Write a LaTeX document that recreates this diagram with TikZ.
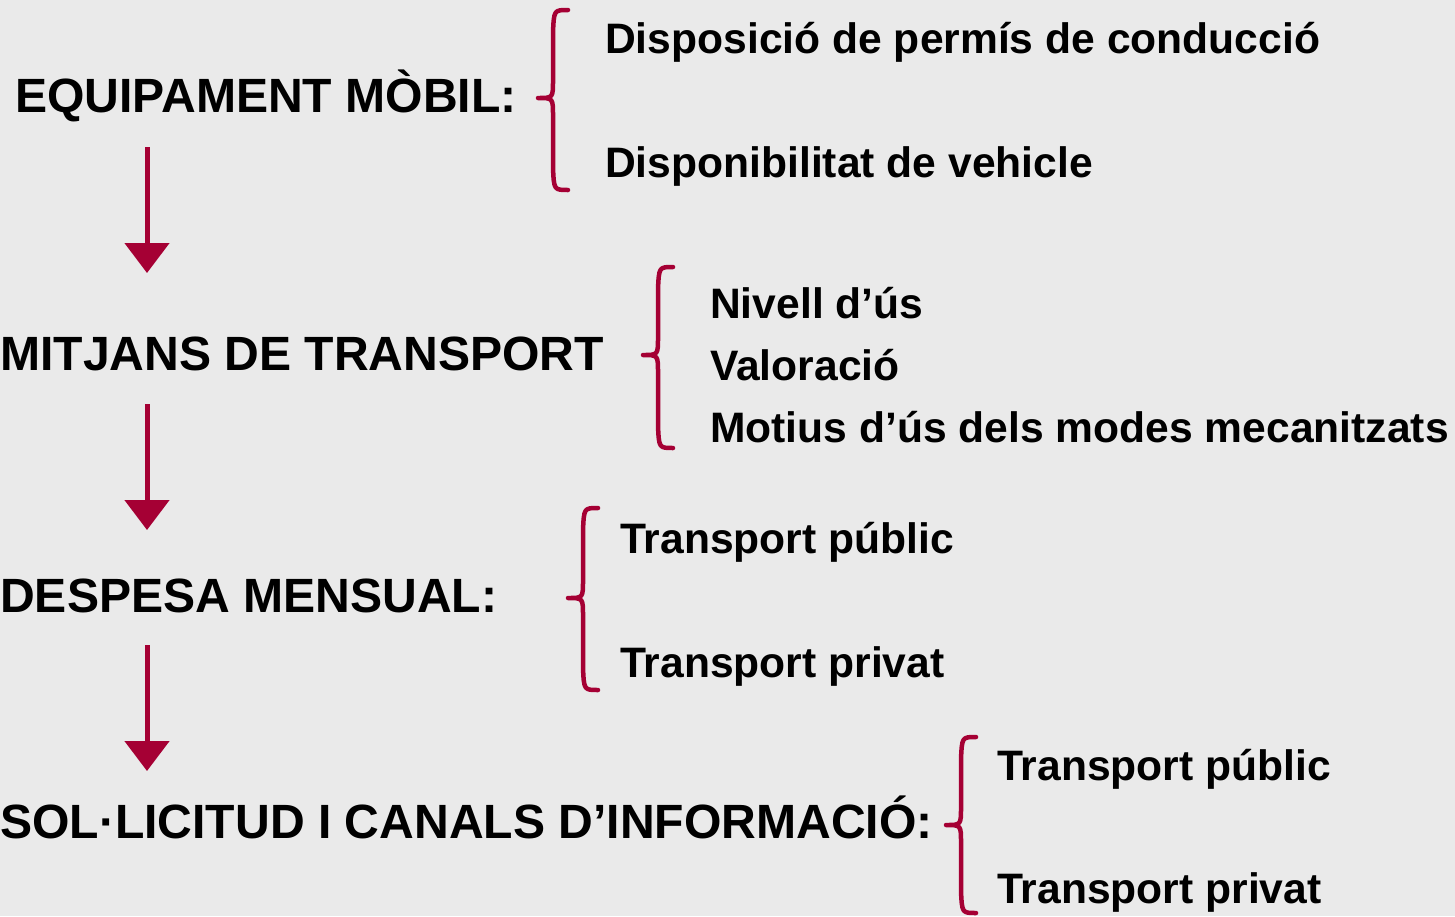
\documentclass[tikz,border=0pt]{standalone}
\usepackage{fontspec}
\setmainfont{Liberation Sans}
\usetikzlibrary{arrows.meta}
\definecolor{crim}{HTML}{A50034}
\definecolor{bg}{HTML}{EAEAEA}
\newcommand{\mybrace}[4]{%
  \draw[bracestyle] ({#1+30},#2) .. controls ({#1+16},#2) .. ({#1+15},{#2+22})
    -- ({#1+15},{#3-18}) .. controls ({#1+15},#3) .. (#1,#3)
    .. controls ({#1+15},#3) .. ({#1+15},{#3+18})
    -- ({#1+15},{#4-22}) .. controls ({#1+16},#4) .. ({#1+30},#4);}
\begin{document}
\begin{tikzpicture}[x=1pt,y=-1pt,
  heading/.style={anchor=base west,inner sep=0pt,font=\fontsize{48.1}{50}\selectfont\bfseries},
  item/.style={anchor=base west,inner sep=0pt,font=\fontsize{42.6}{46}\selectfont\bfseries},
  bracestyle/.style={draw=crim,line width=4.5pt,line cap=round,line join=round},
  flow/.style={draw=crim,line width=5pt,-{Triangle[width=44pt,length=30pt]}}]
\fill[bg] (0,0) rectangle (1455,916);
\useasboundingbox (0,0) rectangle (1455,916);
% headings
\node[heading] (h1) at (15,112) {EQUIPAMENT MÒBIL:};
\node[heading] (h2) at (0,370) {MITJANS DE TRANSPORT};
\node[heading] (h3) at (0,612) {DESPESA MENSUAL:};
\node[heading] (h4) at (0,838) {SOL·LICITUD I CANALS D’INFORMACIÓ:};
% items
\node[item] (a1) at (605,53) {Disposició de permís de conducció};
\node[item] (a2) at (605,177) {Disponibilitat de vehicle};
\node[item] (b1) at (710,318) {Nivell d’ús};
\node[item] (b2) at (710,380) {Valoració};
\node[item] (b3) at (710,442) {Motius d’ús dels modes mecanitzats};
\node[item] (c1) at (620,553) {Transport públic};
\node[item] (c2) at (620,677) {Transport privat};
\node[item] (d1) at (997,780) {Transport públic};
\node[item] (d2) at (997,903) {Transport privat};
% braces
\mybrace{538}{10}{98}{190}
\mybrace{643}{267}{355}{448}
\mybrace{568}{508}{598}{690}
\mybrace{946}{737}{825}{913}
% arrows
\coordinate (s1) at (147,147); \coordinate (e1) at (147,273);
\coordinate (s2) at (147,404); \coordinate (e2) at (147,530);
\coordinate (s3) at (147,645); \coordinate (e3) at (147,771);
\draw[flow] (s1) -- (e1);
\draw[flow] (s2) -- (e2);
\draw[flow] (s3) -- (e3);
\end{tikzpicture}
\end{document}
